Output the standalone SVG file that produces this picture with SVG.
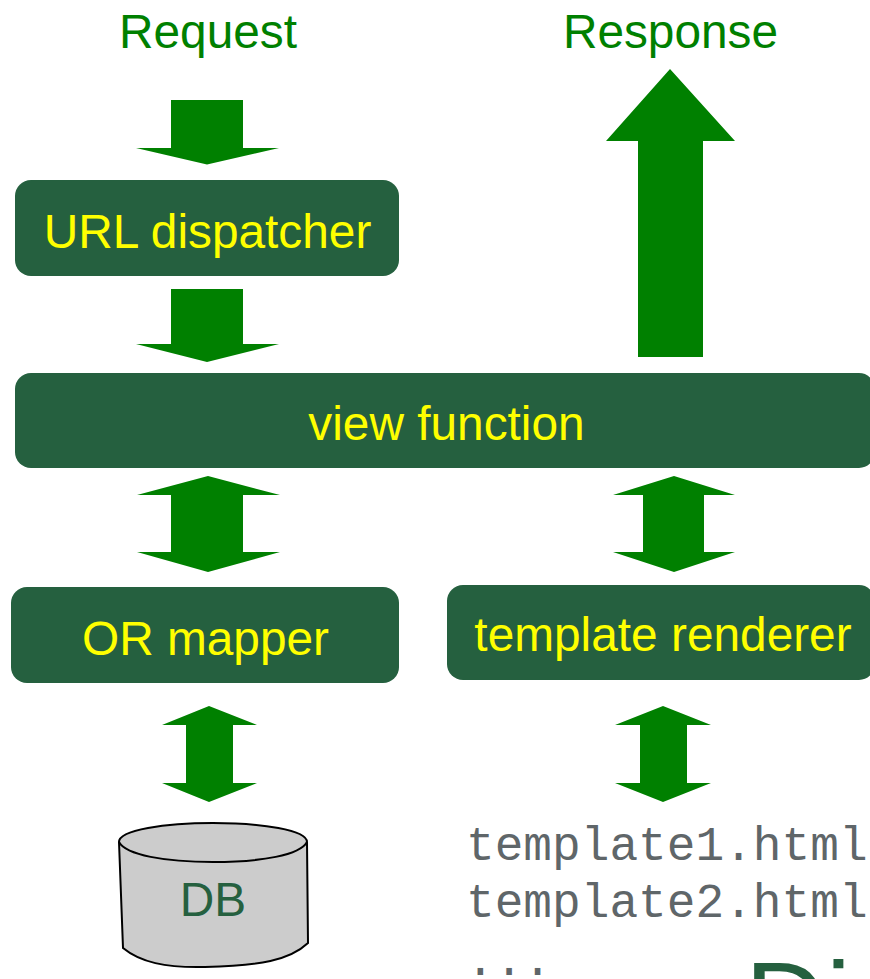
<svg xmlns="http://www.w3.org/2000/svg" width="870" height="979" viewBox="0 0 870 979">
<style>
.box{fill:#25603f}
.arrow{fill:#008000}
.lbl{font-family:"Liberation Sans",Arial,sans-serif;font-size:47.8px;text-anchor:middle;fill:#ffff00}
.head{fill:#008000}
.mono{font-family:"Liberation Mono","Courier New",monospace;font-size:47.8px;fill:#5f6669}
</style>
<rect width="870" height="979" fill="#ffffff"/>
<g id="connectors">
<polygon class="arrow" points="171,100 243,100 243,148 279,148 207,164.500 136,148 171,148"/>
<polygon class="arrow" points="171,289 243,289 243,344 279,344 207,362 136,344 171,344"/>
<polygon class="arrow" points="638,357 703,357 703,141 735,141 670,69 606,141 638,141"/>
<polygon class="arrow" points="208,476 280,495 243,495 243,552 280,552 208,572 137,552 171,552 171,495 137,495"/>
<polygon class="arrow" points="674,476 735,495 704,495 704,552 735,552 674,572 613,552 643,552 643,495 613,495"/>
<polygon class="arrow" points="209,706 257,725 233,725 233,783 257,783 209,802 162,783 186,783 186,725 162,725"/>
<polygon class="arrow" points="663,706 711,725 687,725 687,783 711,783 663,802 615,783 640,783 640,725 615,725"/>
</g>
<g id="request"><text class="lbl head" x="208" y="48">Request</text></g>
<g id="response"><text class="lbl head" x="670.500" y="48">Response</text></g>
<g id="url-dispatcher"><rect class="box" x="15" y="180" width="384" height="96" rx="16"/><text class="lbl" x="207.500" y="248">URL dispatcher</text></g>
<g id="view-function"><rect class="box" x="15" y="373" width="860" height="95" rx="16"/><text class="lbl" x="446.500" y="440">view function</text></g>
<g id="or-mapper"><rect class="box" x="11" y="587" width="388" height="96" rx="16"/><text class="lbl" x="205.500" y="655">OR mapper</text></g>
<g id="template-renderer"><rect class="box" x="447" y="585" width="428" height="95" rx="16"/><text class="lbl" x="663" y="651">template renderer</text></g>
<g id="db">
<path d="M119,842 C119,830 165,823 213,823 C262,823 307,830 307,842 L308,943 C290,960 260,966 205,967 C165,968 140,962 123,948 Z" fill="#cccccc" stroke="#000000" stroke-width="2"/>
<path d="M119,842 C126,855 165,862 213,862 C262,862 300,855 307,842" fill="none" stroke="#000000" stroke-width="2"/>
<text x="213" y="916" font-family="'Liberation Sans',Arial,sans-serif" font-size="47.800" text-anchor="middle" fill="#25603f">DB</text>
</g>
<g id="templates">
<text class="mono" x="466" y="860">template1.html</text>
<text class="mono" x="466" y="917">template2.html</text>
<text class="mono" x="466" y="975">...</text>
</g>
<text x="745" y="1040" font-family="'Liberation Sans',Arial,sans-serif" font-size="112" fill="#25603f">Di</text>
</svg>
